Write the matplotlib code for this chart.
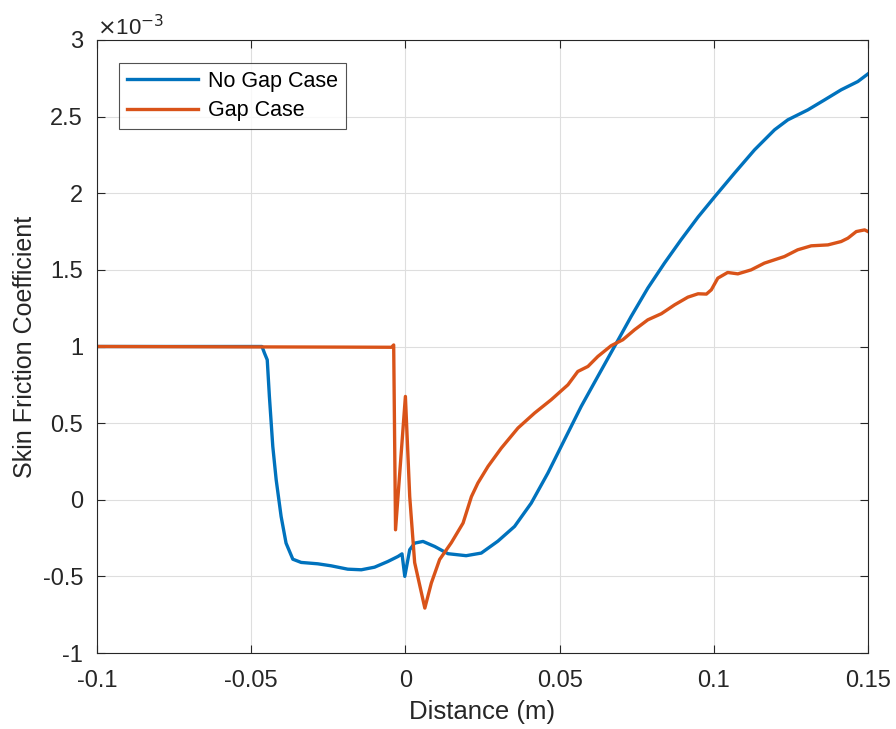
import matplotlib
matplotlib.use("Agg")
import matplotlib.pyplot as plt

plt.rcParams['font.family'] = ['Liberation Sans', 'DejaVu Sans']

# Skin friction coefficient values in units of 1e-3
x_nogap = [-0.1, -0.08, -0.06, -0.05, -0.0465, -0.0457, -0.0448, -0.0441, -0.0430, -0.0419,
           -0.0403, -0.0387, -0.0365, -0.0338, -0.0284, -0.0241, -0.0187, -0.0143, -0.0100,
           -0.0057, -0.0024, -0.0011, -0.0002, 0.0014, 0.0030, 0.0057, 0.0095, 0.0138,
           0.0197, 0.0246, 0.0300, 0.0354, 0.0408, 0.0462, 0.0516, 0.0570, 0.0624, 0.0678,
           0.0732, 0.0786, 0.0840, 0.0894, 0.0949, 0.1002, 0.1067, 0.1132, 0.1197, 0.1240,
           0.1305, 0.1359, 0.1413, 0.1467, 0.15]
cf_nogap = [1.0, 1.0, 1.0, 1.0, 1.0, 0.957, 0.913, 0.674, 0.348, 0.13,
            -0.109, -0.283, -0.388, -0.409, -0.418, -0.431, -0.453, -0.457, -0.44,
            -0.403, -0.37, -0.353, -0.50, -0.326, -0.283, -0.272, -0.305, -0.352,
            -0.365, -0.348, -0.27, -0.174, -0.022, 0.174, 0.392, 0.609, 0.805, 1.0,
            1.196, 1.381, 1.544, 1.697, 1.845, 1.975, 2.131, 2.283, 2.414, 2.479,
            2.544, 2.609, 2.675, 2.729, 2.779]

x_gap = [-0.1, -0.06, -0.02, -0.0045, -0.0038, -0.0032, 0.0, 0.0014, 0.0030, 0.0063,
         0.0084, 0.0111, 0.0149, 0.0187, 0.0214, 0.0235, 0.0268, 0.0311, 0.0365, 0.0419,
         0.0473, 0.0527, 0.0559, 0.0592, 0.0624, 0.0667, 0.0705, 0.0743, 0.0786, 0.0830,
         0.0873, 0.0916, 0.0949, 0.0976, 0.0992, 0.1013, 0.1045, 0.1078, 0.1121, 0.1164,
         0.1229, 0.1272, 0.1316, 0.1370, 0.1413, 0.1435, 0.1462, 0.1489, 0.15]
cf_gap = [1.0, 0.998, 0.996, 0.995, 1.01, -0.196, 0.674, 0.02, -0.41, -0.707,
          -0.544, -0.39, -0.28, -0.152, 0.02, 0.109, 0.218, 0.337, 0.468, 0.566,
          0.653, 0.750, 0.837, 0.870, 0.935, 1.005, 1.044, 1.109, 1.174, 1.214,
          1.272, 1.322, 1.344, 1.342, 1.370, 1.446, 1.483, 1.474, 1.5, 1.544,
          1.587, 1.631, 1.657, 1.663, 1.685, 1.707, 1.750, 1.761, 1.75]

xticks = [-0.1, -0.05, 0, 0.05, 0.1, 0.15]
xtick_labels = ['-0.1', '-0.05', '0', '0.05', '0.1', '0.15']
yticks = [-1, -0.5, 0, 0.5, 1, 1.5, 2, 2.5, 3]
ytick_labels = ['-1', '-0.5', '0', '0.5', '1', '1.5', '2', '2.5', '3']

axcol = '#262626'
fig = plt.figure(figsize=(8.96, 7.29), dpi=100)
ax = fig.add_axes([97/896, 1 - 653/729, (868-97)/896, (653-40)/729])

ax.plot(x_nogap, cf_nogap, color='#0072BD', lw=2.4, label='No Gap Case',
        solid_joinstyle='round')
ax.plot(x_gap, cf_gap, color='#D95319', lw=2.4, label='Gap Case',
        solid_joinstyle='round')

ax.set_xlim(-0.1, 0.15)
ax.set_ylim(-1, 3)
ax.set_xticks(xticks)
ax.set_xticklabels(xtick_labels)
ax.set_yticks(yticks)
ax.set_yticklabels(ytick_labels)
ax.grid(True, color='#dedede', lw=0.8)
ax.set_axisbelow(True)
ax.tick_params(direction='in', top=True, right=True, colors=axcol, labelsize=17,
               length=6, width=0.8)
ax.tick_params(axis='x', pad=12)
ax.tick_params(axis='y', pad=10)
for s in ax.spines.values():
    s.set_color(axcol)
    s.set_linewidth(0.8)

ax.set_xlabel('Distance (m)', fontsize=18.5, color=axcol, labelpad=6)
ax.set_ylabel('Skin Friction Coefficient', fontsize=18, color=axcol, labelpad=4)
ax.text(0.0, 1.0, r'$\times$10$^{-3}$', transform=ax.transAxes, fontsize=16,
        color=axcol, ha='left', va='bottom')

leg = ax.legend(loc='upper left', bbox_to_anchor=(22/771, 1 - 23/613), fontsize=15.5,
                handlelength=3.3, frameon=True, fancybox=False, borderpad=0.35,
                labelspacing=0.4, handletextpad=0.5, borderaxespad=0)
leg.get_frame().set_edgecolor(axcol)
leg.get_frame().set_linewidth(0.8)
for t in leg.get_texts():
    t.set_color('black')

fig.savefig('out.png', dpi=100)
